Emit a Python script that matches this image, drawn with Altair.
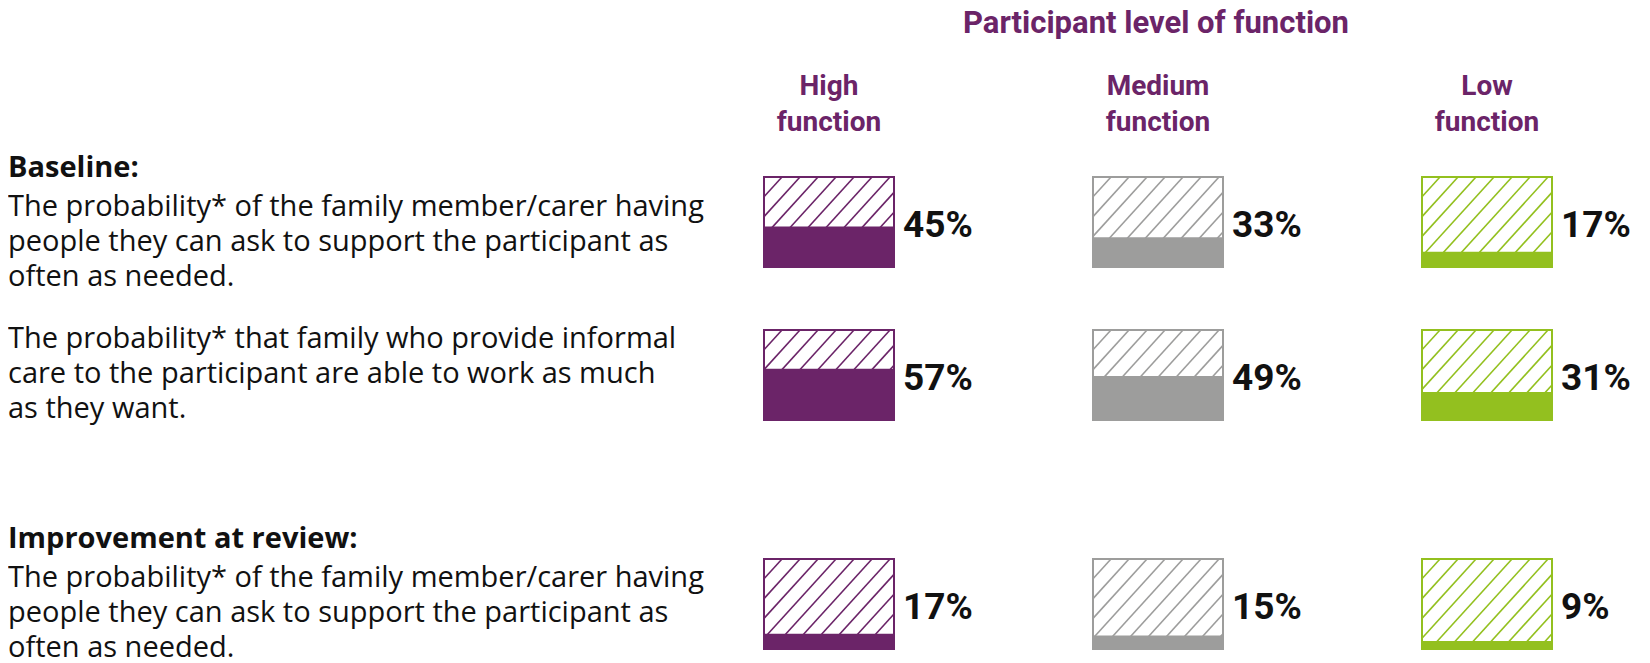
import altair as alt
import numpy as np
import pandas as pd

# ---------------- data ----------------
levels = ["High function", "Medium function", "Low function"]
colors = ["#6B2468", "#9D9D9C", "#93C01F"]

baseline_support = [45, 33, 17]
baseline_work = [57, 49, 31]
review_support = [17, 15, 9]

title_text = "Participant level of function"
baseline_head = "Baseline:"
review_head = "Improvement at review:"
support_text = ("The probability* of the family member/carer having\n"
                "people they can ask to support the participant as\n"
                "often as needed.")
work_text = ("The probability* that family who provide informal\n"
             "care to the participant are able to work as much\n"
             "as they want.")

# ---------------- layout / style ----------------
PURPLE = "#6B2468"
STEP_PX = 329          # distance between box left edges
BOX_PX = 130           # box width
BOX_H = 90             # box height
GRID_W = 2 * STEP_PX + BOX_PX
BOXW = BOX_PX / STEP_PX
TEXT_X = -756          # left text column, relative to the grid
BODY_FONT = "Open Sans"
HEAD_FONT = "Roboto"
BODY_SIZE = 29
LINE_H = 35

xs = alt.Scale(domain=[0, 2 + BOXW], nice=False, zero=False)
ys = alt.Scale(domain=[0, 100], nice=False, zero=False)
cscale = alt.Scale(domain=levels, range=colors)


def hatch_frame():
    """Diagonal hatch pattern inside each box (decoration)."""
    slope, gap = 1.1, 18.0
    rows = []
    for col, lev in enumerate(levels):
        for c in np.arange(-BOX_H / slope, BOX_PX, gap):
            if c >= 0:
                X0, Y0 = c, 0.0
            else:
                X0, Y0 = 0.0, -slope * c
            Xt = c + BOX_H / slope
            if Xt <= BOX_PX:
                X1, Y1 = Xt, float(BOX_H)
            else:
                X1, Y1 = float(BOX_PX), slope * (BOX_PX - c)
            if X1 - X0 < 1:
                continue
            rows.append({"level": lev,
                         "hx": col + X0 / STEP_PX, "hx2": col + X1 / STEP_PX,
                         "hy": Y0 / BOX_H * 100, "hy2": Y1 / BOX_H * 100})
    return pd.DataFrame(rows)


HATCH = hatch_frame()


def text_layer(txt, y, bold=False):
    return alt.Chart(pd.DataFrame({"t": [txt]})).mark_text(
        align="left", baseline="middle", lineBreak="\n", lineHeight=LINE_H,
        fontSize=BODY_SIZE, font=BODY_FONT, color="#111111",
        fontWeight="bold" if bold else "normal",
    ).encode(x=alt.value(TEXT_X), y=alt.value(y), text="t:N")


def row_chart(values, texts, header=False):
    df = pd.DataFrame({"level": levels, "col": list(range(len(levels))), "value": values})
    base = alt.Chart(df).transform_calculate(
        x1=f"datum.col + {BOXW}",
        xc=f"datum.col + {BOXW / 2}",
        zero="0", full="100", mid="50",
        label="datum.value + '%'",
    )
    color = alt.Color("level:N", scale=cscale, legend=None)

    hatch = alt.Chart(HATCH).mark_rule(strokeWidth=1.6).encode(
        x=alt.X("hx:Q", scale=xs, axis=None), x2="hx2:Q",
        y=alt.Y("hy:Q", scale=ys, axis=None), y2="hy2:Q",
        color=color,
    )
    fill = base.mark_rect().encode(
        x=alt.X("col:Q", scale=xs, axis=None), x2="x1:Q",
        y=alt.Y("zero:Q", scale=ys, axis=None), y2="value:Q",
        color=color,
    )
    outline = base.mark_rect(filled=False, strokeWidth=2).encode(
        x=alt.X("col:Q", scale=xs, axis=None), x2="x1:Q",
        y=alt.Y("zero:Q", scale=ys, axis=None), y2="full:Q",
        color=color,
    )
    pct = base.mark_text(
        align="left", baseline="middle", dx=9, dy=4,
        fontSize=37, fontWeight="bold", font=HEAD_FONT, color="#111111",
    ).encode(
        x=alt.X("x1:Q", scale=xs, axis=None),
        y=alt.Y("mid:Q", scale=ys, axis=None),
        text="label:N",
    )
    layers = [hatch, fill, outline, pct]
    for txt, y, bold in texts:
        layers.append(text_layer(txt, y, bold))
    if header:
        heads = base.mark_text(
            align="center", baseline="middle", lineBreak=" ", lineHeight=36,
            fontSize=28, fontWeight="bold", font=HEAD_FONT, color=PURPLE,
        ).encode(x=alt.X("xc:Q", scale=xs, axis=None), y=alt.value(-90), text="level:N")
        title = alt.Chart(pd.DataFrame({"t": [title_text]})).mark_text(
            align="center", baseline="middle", fontSize=31, fontWeight="bold",
            font=HEAD_FONT, color=PURPLE,
        ).encode(x=alt.value(GRID_W / 2 - 2), y=alt.value(-153), text="t:N")
        layers += [heads, title]
    return alt.layer(*layers).properties(width=GRID_W, height=BOX_H)


r1 = row_chart(baseline_support,
               [(baseline_head, -9, True), (support_text, 30, False)], header=True)
r2 = row_chart(baseline_work, [(work_text, 9, False)])
r3 = row_chart(review_support,
               [(review_head, -20, True), (support_text, 19, False)])

spacer = alt.Chart(pd.DataFrame({"a": [0]})).mark_point(opacity=0).encode(
    x=alt.value(0), y=alt.value(0)
).properties(width=GRID_W, height=13)

chart = alt.vconcat(r1, r2, spacer, r3, spacing=63, bounds="flush").properties(
    padding={"left": 0, "top": 0, "right": 5, "bottom": 0}
).configure_view(stroke=None)

chart.save("out.html", embed_options={"renderer": "svg", "actions": False})
